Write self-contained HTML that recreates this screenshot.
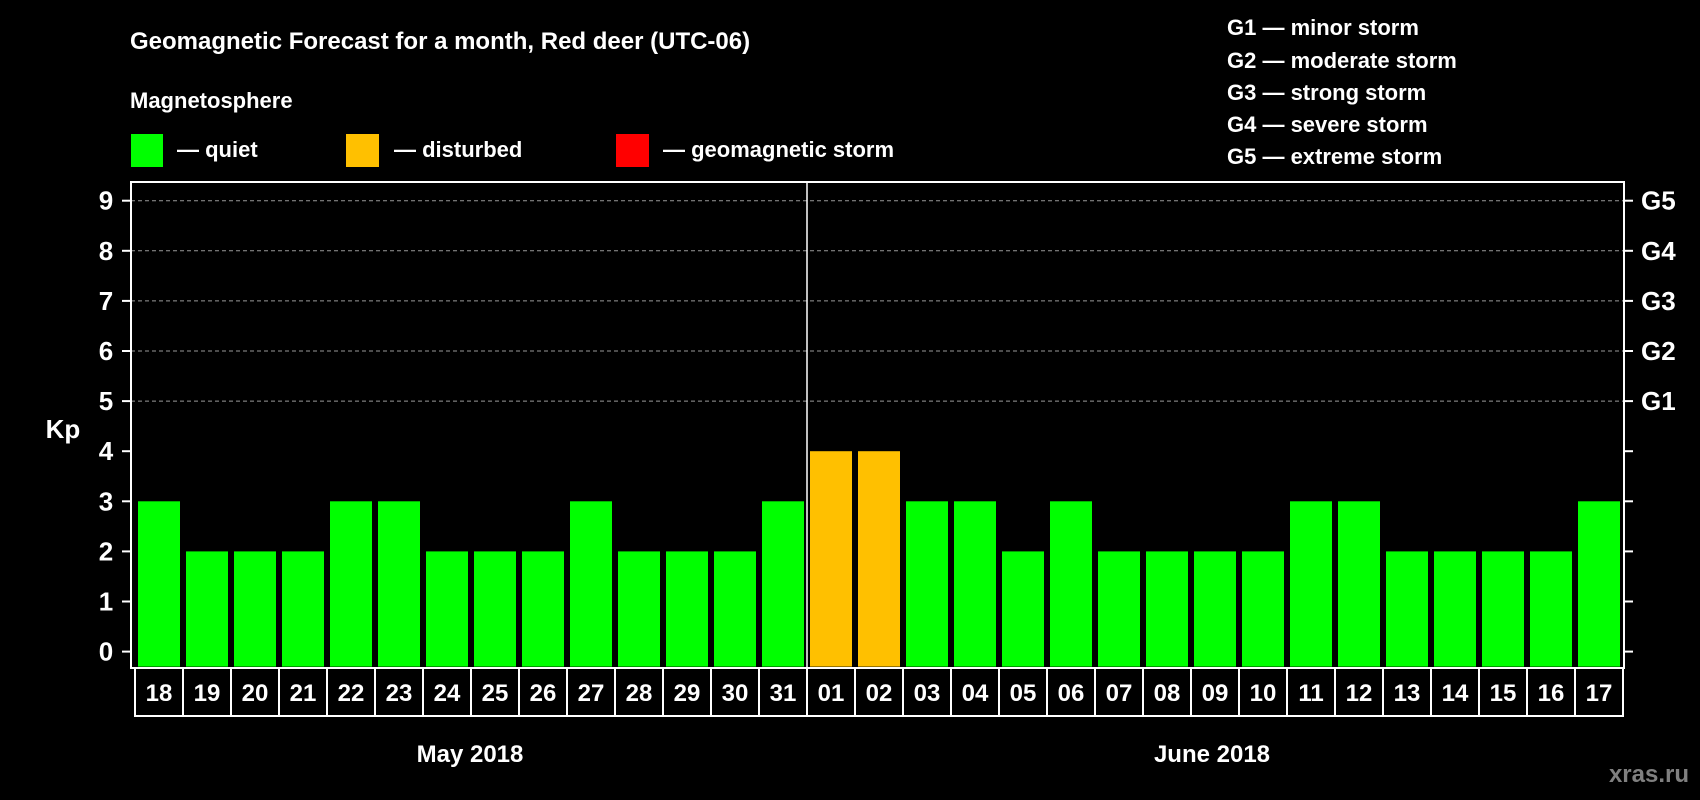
<!DOCTYPE html>
<html><head><meta charset="utf-8"><style>
html,body{margin:0;padding:0;background:#000;}
svg{display:block;font-family:"Liberation Sans",Arial,sans-serif;font-weight:bold;}
</style></head><body>
<svg id="chart" width="1700" height="800" viewBox="0 0 1700 800">
<rect x="0" y="0" width="1700" height="800" fill="#000"/>
<text x="130" y="49" fill="#fff" font-size="24">Geomagnetic Forecast for a month, Red deer (UTC-06)</text>
<text x="130" y="108" fill="#fff" font-size="22">Magnetosphere</text>
<g><rect x="131" y="134" width="32" height="33" fill="#00ff00"/><text x="177" y="157" fill="#fff" font-size="22">— quiet</text></g>
<g><rect x="346" y="134" width="33" height="33" fill="#ffc000"/><text x="394" y="157" fill="#fff" font-size="22">— disturbed</text></g>
<g><rect x="616" y="134" width="33" height="33" fill="#ff0000"/><text x="663" y="157" fill="#fff" font-size="22">— geomagnetic storm</text></g>
<g font-size="22" fill="#fff">
<text x="1227" y="35">G1 — minor storm</text>
<text x="1227" y="68">G2 — moderate storm</text>
<text x="1227" y="100">G3 — strong storm</text>
<text x="1227" y="132">G4 — severe storm</text>
<text x="1227" y="164">G5 — extreme storm</text>
</g>
<text x="63" y="438" fill="#fff" font-size="26" text-anchor="middle">Kp</text>
<g id="grid"></g><g id="bars"></g><g id="axes"></g><g id="xlabels"></g>
<text x="470" y="762" fill="#fff" font-size="24" text-anchor="middle">May 2018</text>
<text x="1212" y="762" fill="#fff" font-size="24" text-anchor="middle">June 2018</text>
<text x="1689" y="782" fill="#808080" font-size="24" text-anchor="end">xras.ru</text>
</svg>
<script>
const days = ["18","19","20","21","22","23","24","25","26","27","28","29","30","31","01","02","03","04","05","06","07","08","09","10","11","12","13","14","15","16","17"];
const kpValues = [3,2,2,2,3,3,2,2,2,3,2,2,2,3,4,4,3,3,2,3,2,2,2,2,3,3,2,2,2,2,3];
const yTicks = [0,1,2,3,4,5,6,7,8,9];
const gLabels = ["G1","G2","G3","G4","G5"];
const gLevels = [5,6,7,8,9];
const NS="http://www.w3.org/2000/svg";
const L=131,R=1624,T=182,B=668,x0=138,pitch=48,bw=42;
const y=v=>651.6-v*50.1;
const xb=i=>x0+i*pitch;
function mk(t,a,p){const e=document.createElementNS(NS,t);for(const k in a)e.setAttribute(k,a[k]);p.appendChild(e);return e;}
const grid=document.getElementById('grid'),bars=document.getElementById('bars'),axes=document.getElementById('axes'),xl=document.getElementById('xlabels');
yTicks.forEach(v=>{
 if(v>=5){const g=mk('line',{x1:L,x2:R,y1:y(v),y2:y(v),stroke:'#999','stroke-dasharray':'4,3','stroke-width':1},grid);
 
 }
 const t=mk('line',{x1:122,x2:L,y1:y(v),y2:y(v),stroke:'#fff','stroke-width':2},axes);
 
 
 const t2=mk('line',{x1:R,x2:R+9,y1:y(v),y2:y(v),stroke:'#fff','stroke-width':2},axes);
 
 
 const lb=mk('text',{x:106,y:y(v)+9,fill:'#fff','font-size':26,'text-anchor':'middle'},axes);
 lb.textContent=v;
 
 
});
gLabels.forEach((g,i)=>{
 const t=mk('text',{x:1641,y:y(gLevels[i])+9,fill:'#fff','font-size':26},axes);
 t.textContent=g;
 
 
});
kpValues.forEach((v,i)=>{
 const c=v>=5?'#ff0000':(v>=4?'#ffc000':'#00ff00');
 const r=mk('rect',{x:xb(i),y:y(v),width:bw,height:y(0)-y(v)+15,fill:c},bars);
 
 
});
const fr=mk('rect',{x:L,y:T,width:R-L,height:B-T,fill:'none',stroke:'#fff','stroke-width':2},axes);


const sepI=days.indexOf("01");
const sp=mk('line',{x1:xb(sepI)-3,x2:xb(sepI)-3,y1:T,y2:B,stroke:'#fff','stroke-width':1.5},axes);


days.forEach((d,i)=>{
 const bx=mk('rect',{x:xb(i)-3,y:B,width:pitch,height:48,fill:'none',stroke:'#fff','stroke-width':2},xl);
 
 
 const t=mk('text',{x:xb(i)+bw/2,y:B+33,fill:'#fff','font-size':24,'text-anchor':'middle'},xl);
 t.textContent=d;
 
 
});
</script>
</body></html>
